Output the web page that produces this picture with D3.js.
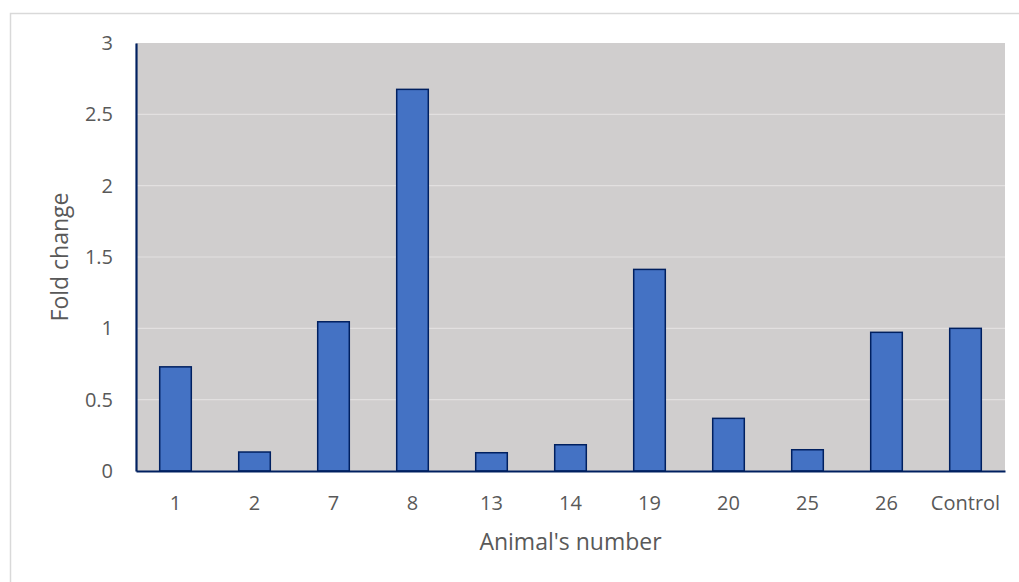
<!DOCTYPE html>
<html>
<head>
<meta charset="utf-8">
<script src="https://cdn.jsdelivr.net/npm/d3@7"></script>
<style>
  html, body { margin: 0; padding: 0; background: #ffffff; }
  svg { display: block; font-family: "Open Sans", Lato, sans-serif; }
</style>
</head>
<body>
<svg id="chart" width="1019" height="582"></svg>
<script>
// Fold change per animal
const categories = ["1", "2", "7", "8", "13", "14", "19", "20", "25", "26", "Control"];
const foldChange = [0.73, 0.133, 1.046, 2.675, 0.128, 0.184, 1.413, 0.369, 0.149, 0.972, 1.0];
const yTicks = [0, 0.5, 1, 1.5, 2, 2.5, 3];

const svg = d3.select("#chart");
const plot = { left: 136, right: 1005, top: 43, bottom: 471 };

// chart frame
svg.append("rect")
  .attr("x", 10.5).attr("y", 13.5)
  .attr("width", 1030).attr("height", 600)
  .attr("fill", "#ffffff").attr("stroke", "#d9d9d9").attr("stroke-width", 1.5);

// plot area background
svg.append("rect")
  .attr("x", plot.left).attr("y", plot.top)
  .attr("width", plot.right - plot.left).attr("height", plot.bottom - plot.top)
  .attr("fill", "#d0cece");

const x = d3.scaleBand().domain(categories).range([plot.left, plot.right]).paddingInner(0.6).paddingOuter(0.3);
const y = d3.scaleLinear().domain([0, 3]).range([plot.bottom, plot.top]);

// gridlines
svg.append("g").selectAll("line").data(yTicks.filter(t => t > 0 && t < 3)).join("line")
  .attr("x1", plot.left).attr("x2", plot.right)
  .attr("y1", d => y(d)).attr("y2", d => y(d))
  .attr("stroke", "#e2e0e0").attr("stroke-width", 1.2);

// bars
svg.append("g").selectAll("rect").data(foldChange).join("rect")
  .attr("x", (d, i) => x(categories[i]))
  .attr("y", d => y(d))
  .attr("width", x.bandwidth())
  .attr("height", d => y(0) - y(d))
  .attr("fill", "#4472c4")
  .attr("stroke", "#002060")
  .attr("stroke-width", 1.5);

// y axis
const yAxis = d3.axisLeft(y).tickValues(yTicks).tickSize(0).tickPadding(23).tickFormat(d3.format("~g"));
const gy = svg.append("g").attr("transform", `translate(${plot.left},0)`).call(yAxis);
gy.select(".domain").attr("stroke", "#002060").attr("stroke-width", 2.2);
gy.selectAll("text").attr("fill", "#595959").attr("font-size", 20).attr("font-family", "'Open Sans', sans-serif");

// x axis
const xAxis = d3.axisBottom(x).tickSize(0).tickPadding(25);
const gx = svg.append("g").attr("transform", `translate(0,${plot.bottom})`).call(xAxis);
gx.select(".domain").attr("stroke", "#002060").attr("stroke-width", 2.2);
gx.selectAll("text").attr("fill", "#595959").attr("font-size", 20).attr("font-family", "'Open Sans', sans-serif");

// axis titles
svg.append("text")
  .attr("x", (plot.left + plot.right) / 2).attr("y", 550)
  .attr("text-anchor", "middle").attr("fill", "#595959").attr("font-size", 23)
  .text("Animal's number");

svg.append("text")
  .attr("transform", `translate(68,${(plot.top + plot.bottom) / 2}) rotate(-90)`)
  .attr("text-anchor", "middle").attr("fill", "#595959").attr("font-size", 23)
  .text("Fold change");
</script>
</body>
</html>
